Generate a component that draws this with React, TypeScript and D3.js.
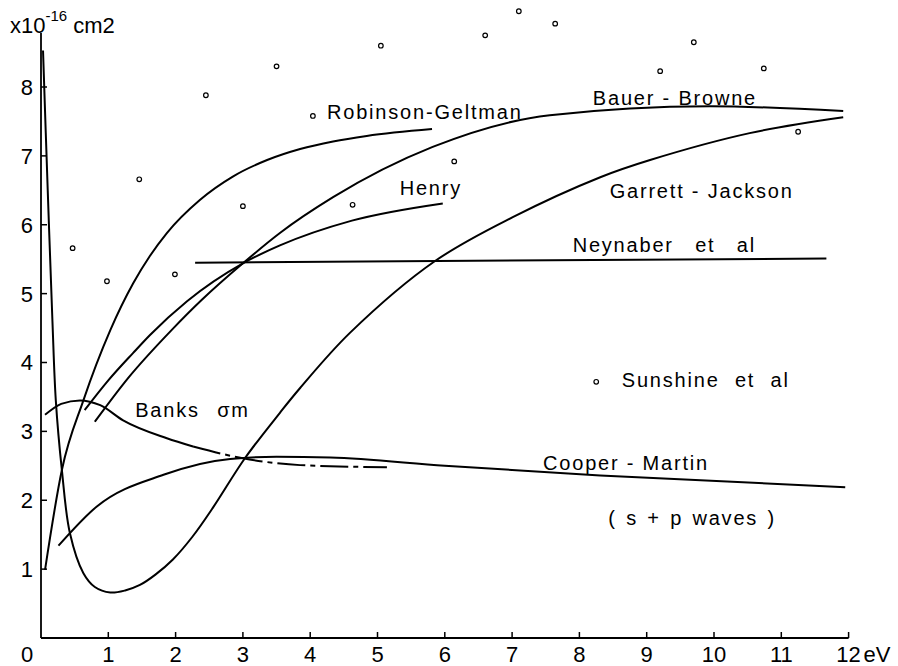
import React from 'react';
import * as d3 from 'd3';

// energy (eV) / cross section (x10^-16 cm2)
const garrettJackson = [
  [0.03, 8.53], [0.1, 6.5], [0.17, 4.6], [0.22, 3.45], [0.31, 2.44], [0.43, 1.52],
  [0.63, 0.94], [0.8, 0.74], [1.03, 0.66], [1.25, 0.69], [1.47, 0.77], [1.7, 0.92],
  [1.96, 1.14], [2.25, 1.47], [2.56, 1.9], [3.03, 2.61], [3.55, 3.27], [3.85, 3.63],
  [4.59, 4.43], [5.85, 5.47], [7.01, 6.11], [8.31, 6.69], [9.05, 6.94], [10.53, 7.33],
  [11.92, 7.56]
];
const robinsonGeltman = [
  [0.06, 0.99], [0.31, 2.44], [0.63, 3.45], [1.03, 4.47], [1.37, 5.15], [1.62, 5.55],
  [1.87, 5.88], [2.36, 6.36], [2.85, 6.7], [3.36, 6.94], [3.85, 7.1], [4.34, 7.21],
  [4.84, 7.29], [5.81, 7.39]
];
const henry = [
  [0.65, 3.31], [1.0, 3.74], [1.37, 4.14], [1.62, 4.4], [2.17, 4.89], [3.0, 5.44],
  [3.55, 5.7], [4.62, 6.06], [5.97, 6.31]
];
const bauerBrowne = [
  [0.8, 3.14], [1.3, 3.78], [1.94, 4.47], [2.39, 4.91], [3.0, 5.44], [3.55, 5.88],
  [4.34, 6.4], [5.82, 7.13], [7.56, 7.59], [9.94, 7.72], [11.92, 7.65]
];
const neynaber = [[2.29, 5.45], [11.67, 5.51]];
const cooperMartin = [
  [0.26, 1.34], [0.83, 1.91], [1.82, 2.37], [2.81, 2.6], [3.5, 2.63], [4.3, 2.62],
  [6.0, 2.5], [8.31, 2.36], [11.95, 2.19]
];
const banksSolid = [[0.06, 3.24], [0.3, 3.4], [0.58, 3.45], [0.88, 3.38], [1.22, 3.16], [1.87, 2.9], [2.26, 2.78]];
const banksDashed = [[2.26, 2.78], [3.0, 2.61], [3.85, 2.51], [5.14, 2.48]];
const sunshine = [
  [0.47, 5.66], [0.98, 5.18], [1.46, 6.66], [1.99, 5.28], [2.45, 7.88], [3.0, 6.27],
  [3.5, 8.3], [4.04, 7.58], [4.63, 6.29], [5.05, 8.6], [6.14, 6.92], [6.6, 8.75],
  [7.1, 9.1], [7.64, 8.92], [9.2, 8.23], [9.7, 8.65], [10.74, 8.27], [11.25, 7.35]
];
const xTicks = [1, 2, 3, 4, 5, 6, 7, 8, 9, 10, 11, 12];
const yTicks = [1, 2, 3, 4, 5, 6, 7, 8];
const labels = [
  { text: 'Robinson-Geltman', x: 4.25, y: 7.54, ws: 0 },
  { text: 'Bauer - Browne', x: 8.2, y: 7.74, ws: 0 },
  { text: 'Henry', x: 5.33, y: 6.43, ws: 0 },
  { text: 'Garrett - Jackson', x: 8.45, y: 6.39, ws: 0 },
  { text: 'Neynaber et al', x: 7.9, y: 5.6, ws: 14 },
  { text: 'Sunshine et al', x: 8.63, y: 3.64, ws: 8 },
  { text: 'Banks σm', x: 1.4, y: 3.21, ws: 10 },
  { text: 'Cooper - Martin', x: 7.46, y: 2.44, ws: 0 },
  { text: '( s + p waves )', x: 8.43, y: 1.64, ws: 2 }
];
const legendDot = [8.25, 3.72];

const W = 898;
const H = 666;
const font = '"Liberation Sans", Arial, sans-serif';

export default function App() {
  const x = d3.scaleLinear().domain([0, 12]).range([41, 848.6]);
  const y = d3.scaleLinear().domain([0, 8]).range([638, 87]);

  const line = d3.line<number[]>()
    .x(d => x(d[0]))
    .y(d => y(d[1]))
    .curve(d3.curveMonotoneX);
  const smooth = d3.line<number[]>()
    .x(d => x(d[0]))
    .y(d => y(d[1]))
    .curve(d3.curveCatmullRom.alpha(0.5));

  const curves = [robinsonGeltman, henry, bauerBrowne, cooperMartin, banksSolid, neynaber];

  return (
    <svg width={W} height={H} style={{ position: 'absolute', left: 0, top: 0, background: '#fff' }}
      fontFamily={font}>
      {/* axes */}
      <line x1={x(0)} x2={x(12)} y1={y(0)} y2={y(0)} stroke="#000" strokeWidth={1.8} />
      <line x1={x(0)} x2={x(0)} y1={y(0)} y2={33} stroke="#000" strokeWidth={1.8} />
      {xTicks.map(t => (
        <line key={'xt' + t} x1={x(t)} x2={x(t)} y1={y(0)} y2={y(0) - 6} stroke="#000" strokeWidth={1.5} />
      ))}
      {yTicks.map(t => (
        <line key={'yt' + t} x1={x(0)} x2={x(0) + 6} y1={y(t)} y2={y(t)} stroke="#000" strokeWidth={1.5} />
      ))}
      <text x={27} y={662} fontSize={22} textAnchor="middle">0</text>
      {xTicks.map(t => (
        <text key={'xl' + t} x={x(t)} y={662} fontSize={22} textAnchor="middle">{t}</text>
      ))}
      <text x={x(12) + 15} y={662} fontSize={22}>eV</text>
      {yTicks.map(t => (
        <text key={'yl' + t} x={33} y={y(t)} dy="0.36em" fontSize={22} textAnchor="end">{t}</text>
      ))}
      <text x={10} y={33} fontSize={22}>
        x10<tspan fontSize={15} dy={-12}>-16</tspan><tspan dx={6} dy={12}>cm2</tspan>
      </text>

      {/* curves */}
      <path d={smooth(garrettJackson) || ''} fill="none" stroke="#000" strokeWidth={2} />
      {curves.map((c, i) => (
        <path key={'c' + i} d={line(c) || ''} fill="none" stroke="#000" strokeWidth={2} />
      ))}
      <path d={line(banksDashed) || ''} fill="none" stroke="#000" strokeWidth={2}
        strokeDasharray="28,5,5,5" />

      {/* Sunshine et al points */}
      {sunshine.map((d, i) => (
        <circle key={'s' + i} cx={x(d[0])} cy={y(d[1])} r={2.3} fill="#fff" stroke="#000" strokeWidth={1.2} />
      ))}
      <circle cx={x(legendDot[0])} cy={y(legendDot[1])} r={2.3} fill="#fff" stroke="#000" strokeWidth={1.2} />

      {labels.map((l, i) => (
        <text key={'l' + i} x={x(l.x)} y={y(l.y)} fontSize={20} letterSpacing={1.8}
          wordSpacing={l.ws} style={{ whiteSpace: 'pre' }}>{l.text}</text>
      ))}
    </svg>
  );
}
